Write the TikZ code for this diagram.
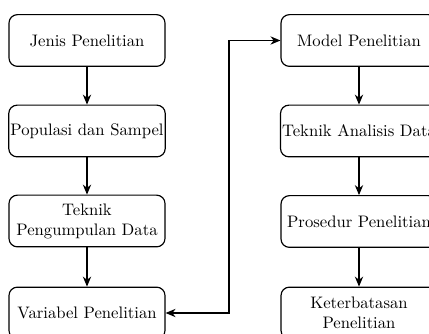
\documentclass[tikz,border=0pt]{standalone}
\usetikzlibrary{arrows.meta, positioning}

\begin{document}
\begin{tikzpicture}[
    x=0.6pt, y=-0.6pt,
    stepbox/.style={rectangle, draw=black, line width=0.7pt, rounded corners=5pt,
                    fill=white, minimum width=93.6pt, minimum height=31pt,
                    align=center, inner sep=1pt, font=\normalsize},
    arrow/.style={-{Stealth[length=6pt, width=5pt]}, line width=0.7pt}
]
\useasboundingbox (0,0) rectangle (429,334);
%% Left column
\node[stepbox] (jenis)     at (87, 40.5) {Jenis Penelitian};
\node[stepbox] (populasi)  at (87, 131)  {Populasi dan Sampel};
\node[stepbox] (teknikpd)  at (87, 221)  {Teknik\\Pengumpulan Data};
\node[stepbox] (variabel)  at (87, 313)  {Variabel Penelitian};
%% Right column
\node[stepbox] (model)     at (359, 40.5) {Model Penelitian};
\node[stepbox] (analisis)  at (359, 131)  {Teknik Analisis Data};
\node[stepbox] (prosedur)  at (359, 221.5) {Prosedur Penelitian};
\node[stepbox] (batasan)   at (359, 313)  {Keterbatasan\\Penelitian};
%% Vertical arrows
\draw[arrow] (jenis) -- (populasi);
\draw[arrow] (populasi) -- (teknikpd);
\draw[arrow] (teknikpd) -- (variabel);
\draw[arrow] (model) -- (analisis);
\draw[arrow] (analisis) -- (prosedur);
\draw[arrow] (prosedur) -- (batasan);
%% Link between columns
\coordinate (bend) at (229, 40.5);
\draw[arrow, {Stealth[length=6pt, width=5pt]}-{Stealth[length=6pt, width=5pt]}]
    (variabel.east) -| (bend) -- (model.west);
\end{tikzpicture}
\end{document}
